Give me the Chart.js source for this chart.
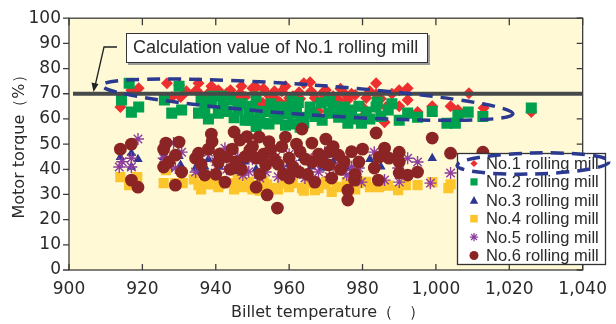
<!DOCTYPE html>
<html lang="en">
<head>
<meta charset="UTF-8">
<title>Motor torque vs billet temperature</title>
<script src="https://cdn.jsdelivr.net/npm/chart.js@4.4.1/dist/chart.umd.min.js"></script>
<style>
  body { margin: 0; background: #fff; }
  canvas { display: block; }
</style>
</head>
<body>
<canvas id="torqueChart" width="616" height="324"></canvas>
<script>
// axis ticks
const xTicks = [900, 920, 940, 960, 980, 1000, 1020, 1040];
const yTicks = [0, 10, 20, 30, 40, 50, 60, 70, 80, 90, 100];
const calcValue = 70;

const millNames = ["No.1 rolling mill", "No.2 rolling mill", "No.3 rolling mill",
                   "No.4 rolling mill", "No.5 rolling mill", "No.6 rolling mill"];

// [billet temperature, motor torque %]
const no1 = [[914,64.7],[917,71.4],[919,72.2],[926.7,74.2],[928,68.7],[930,73.4],[930.4,68.7],[932,71],
  [934.7,71.4],[935.3,74.2],[936,69.4],[937.5,67],[938,70.2],[938.8,73],[940.7,71.4],[941,69],[942,66],
  [943,70.2],[944,71.4],[945,68],[946.6,70.2],[947,73],[948,68.7],[949.5,60.7],[950,72.2],[951,72.6],
  [952,66],[952.8,66.3],[953,72],[954,70],[955.5,68.7],[956,68.3],[956,71],[957.4,66.7],[958,71],[959,73],
  [959.5,66.3],[960,68.3],[961,69],[962.7,70.6],[963,68],[964,74.2],[965.7,74.6],[966,71],[967,68.3],
  [968,63],[969,70.2],[970,71.5],[971,68.7],[972,69],[973,67.5],[973.5,67.5],[974,72],[975,70.2],[976,67.5],
  [977,70],[978,69.5],[979.7,60.3],[980,64.7],[981,68.3],[982,71],[983.7,74.2],[983.7,69.8],[985,68],
  [986,58.7],[986.4,64.7],[988,70],[990,71.4],[990,65],[992.3,72.2],[992.3,67.5],[995,62.7],[999,65],
  [1004,65],[1006,63.5],[1009,70.2],[1013,64.3],[1026,62.7]];
const no2 = [[914.3,67.5],[916.4,74.2],[917,62.7],[919,64.7],[926,67.5],[928,62.3],[930,73],[930.7,63.5],
  [935.3,62.3],[936,67.5],[937,64],[938,60],[938.8,66.3],[939,69],[940.7,62.3],[941.5,69],[942,65.5],
  [943,63],[944,67.5],[945,60.5],[946,63.5],[947,66],[948,59.5],[949,62],[949.3,59.5],[950,65],[951,68.7],
  [951,57],[952,60.7],[953,58.3],[953,63],[954.5,58],[955,66],[956,62.3],[956.3,64.7],[957,60],[957,63],
  [958.7,64.7],[959,57.5],[959.5,62],[960.8,67.5],[961,58],[961,64.5],[962,62.3],[962.5,66.5],[963,56.7],
  [963.5,60.7],[964,58.5],[965.7,64.7],[966,62.5],[967,61],[968.7,66.3],[969,59.5],[970.8,62.3],[971,67],
  [972,65],[973.5,60.7],[974,63],[975,64.7],[976,58.3],[976,61.5],[977,63.5],[978,60],[979,65],[979.7,58.3],
  [981,62.7],[982,60],[983.7,64.7],[984,66.7],[985,61],[987,63.5],[988,66],[990,59.5],[992.3,62.3],
  [995,60.7],[999,63],[1003,58.3],[1005.3,58.3],[1006,61.5],[1008.8,62.7],[1012.8,61],[1026,64.3]];
const no3 = [[914,44.8],[917,46.4],[918.8,44],[917,40.9],[925.8,44.8],[927.2,40.5],[930,45.2],[930.4,41.7],
  [934.5,40.5],[935.3,38.5],[937,41],[938,44],[941,41],[943,44],[944.7,40.5],[946,39],[948,43],[951,40],
  [953,43],[955.5,44.4],[958,41],[960,42],[963.5,44.4],[966,41],[968.9,40.5],[970,44],[972,43],[974,39],
  [975.7,40.5],[979,42],[982,44],[985,41],[990,43],[999,44.4]];
const no4 = [[914,36.9],[916.4,33.7],[918.6,36.9],[925.8,34.5],[926.4,39.7],[929,34.5],[931,34.5],[934,36],
  [935.3,33.7],[936,32],[937,36.9],[938,34],[939,37],[940.7,32.9],[941,34],[942,35],[944,34.5],[945,32],
  [946,36],[947.4,32.9],[949,35],[950,32],[951,33.7],[952,31.5],[953,35.5],[954,34],[955.5,32.5],[957,32],
  [958,34.5],[960,32.9],[961,34.5],[963.5,32.5],[964,31.5],[965,34.5],[967,31.7],[968,32.5],[969,34],
  [970,35],[971.6,31],[973,33],[974.3,32.9],[975.7,34.9],[976,31.7],[978,32],[979,34.5],[981,35],[982,32.9],
  [984.5,32.9],[987,33.5],[989.7,31.7],[991.8,33.7],[995,33.7],[999,34.9],[1003.4,32.5],[1004,34]];
const no5 = [[913.7,40.9],[914.5,43],[917,44.4],[917,40.9],[918.8,52],[925.8,44.4],[928.5,50.4],[929,40.5],
  [930.7,46.8],[934.5,38.9],[936,41],[938,46.8],[939.8,38.5],[940,43],[942.5,48.4],[943,40],[945,42],
  [946,45],[947.4,37.7],[949,39],[950,44],[952,36.5],[953.6,38.9],[954,42],[956.3,44.8],[957,37],[958,40],
  [960,46],[961,42],[962,40],[964.3,36.5],[966,44],[967,42],[968,38.9],[969.7,46.8],[971,37],[972,41],
  [974,44],[975.7,37.7],[977,41],[979,40.5],[979.7,34.9],[983.2,46.8],[986,35.7],[989.7,40.5],[990,34.9],
  [992.3,44.4],[995,42.9],[998.5,34.5],[1004,38.5]];
const no6 = [[914,48],[917,50],[917,35.7],[918.8,32.9],[925.8,48],[925.8,40.9],[926.4,50.4],[927.2,42.9],
  [929,45.6],[929,33.7],[930,50.8],[930.7,38.9],[934.5,44.4],[935.3,46.4],[936,42],[937,37.7],[938,48],
  [938.8,54],[939,51],[940,38],[940.7,42.9],[941,46],[942.5,34.9],[943,45],[944,40],[944.5,48],[945,54.8],
  [945.5,42.9],[946.6,51.6],[947,40],[948,45],[948.5,53],[949.3,47.6],[950,49],[951,44.4],[951,32.9],
  [951.8,52.8],[952,38],[953,46],[953.6,41.7],[954,29.8],[954.5,51],[955,48],[956,44],[956.8,24.6],[957,42],
  [958,49],[958.5,38],[959,52.8],[960,44.4],[960,36.5],[961,41],[962,50],[962.7,38.9],[963,47],[963.5,56],
  [964.5,44],[965,38],[966.2,50.4],[966.2,42.9],[967,34.9],[968,46],[969,43],[970,52],[970.8,41.7],[971,47],
  [971.6,36.5],[972,49],[973.5,45.6],[974,40],[975,43],[976,31.7],[976,27.8],[977,47],[977.8,35.7],[978,38],
  [979,42.9],[980,48],[983.2,40.5],[983.7,54.4],[984.3,35.7],[984.5,44.8],[986,48.4],[987.2,44.4],[990,46.8],
  [990,42.9],[990,38.5],[992.3,37.7],[995,38.9],[999,52.4],[1004,46.4],[1012.8,46.8]];

const series = [no1, no2, no3, no4, no5, no6];
const colors = ['#ee2f2f', '#00a14e', '#2c3592', '#fcc52c', '#8e3c9d', '#8b2424'];
const styles = ['rectRot', 'rect', 'triangle', 'rect', 'star', 'circle'];
const radii = [6, 7.8, 5.5, 7.2, 6, 6.4];

function drawMarker(ctx, style, x, y, r, color) {
  ctx.save();
  ctx.fillStyle = color;
  ctx.strokeStyle = color;
  ctx.beginPath();
  if (style === 'rectRot') {
    ctx.moveTo(x, y - r); ctx.lineTo(x + r, y); ctx.lineTo(x, y + r); ctx.lineTo(x - r, y);
    ctx.closePath(); ctx.fill();
  } else if (style === 'rect') {
    ctx.rect(x - r, y - r, 2 * r, 2 * r); ctx.fill();
  } else if (style === 'triangle') {
    ctx.moveTo(x, y - r); ctx.lineTo(x + r, y + r * 0.8); ctx.lineTo(x - r, y + r * 0.8);
    ctx.closePath(); ctx.fill();
  } else if (style === 'star') {
    ctx.lineWidth = 1.3;
    for (let k = 0; k < 4; k++) {
      const a = k * Math.PI / 4;
      ctx.moveTo(x - r * Math.cos(a), y - r * Math.sin(a));
      ctx.lineTo(x + r * Math.cos(a), y + r * Math.sin(a));
    }
    ctx.stroke();
  } else {
    ctx.arc(x, y, r, 0, Math.PI * 2); ctx.fill();
  }
  ctx.restore();
}

function dashedEllipse(ctx, cx, cy, rx, ry, rot) {
  ctx.save();
  ctx.strokeStyle = '#2b3990';
  ctx.lineWidth = 3.5;
  ctx.setLineDash([13, 8]);
  ctx.beginPath();
  ctx.ellipse(cx, cy, rx, ry, rot, 0, Math.PI * 2);
  ctx.stroke();
  ctx.restore();
}

const decorations = {
  id: 'decorations',
  beforeDraw(chart) {
    const { ctx, chartArea: a } = chart;
    ctx.save();
    ctx.fillStyle = '#fffad5';
    ctx.fillRect(a.left, a.top, a.right - a.left, a.bottom - a.top);
    ctx.restore();
  },
  afterDatasetsDraw(chart) {
    const { ctx, chartArea: a, scales: { x, y } } = chart;
    ctx.save();

    // frame and inward ticks
    ctx.strokeStyle = '#3c3c3c';
    ctx.lineWidth = 1.3;
    ctx.strokeRect(a.left, a.top, a.right - a.left, a.bottom - a.top);
    ctx.beginPath();
    xTicks.forEach(v => {
      const px = x.getPixelForValue(v);
      ctx.moveTo(px, a.bottom); ctx.lineTo(px, a.bottom - 6);
      ctx.moveTo(px, a.top); ctx.lineTo(px, a.top + 7);
    });
    yTicks.forEach(v => {
      const py = y.getPixelForValue(v);
      ctx.moveTo(a.left - 6, py); ctx.lineTo(a.left, py);
      ctx.moveTo(a.right, py); ctx.lineTo(a.right - 6, py);
    });
    ctx.stroke();

    // calculation value line
    const y70 = y.getPixelForValue(calcValue);
    ctx.strokeStyle = '#464a4a';
    ctx.lineWidth = 4;
    ctx.beginPath();
    ctx.moveTo(a.left + 4, y70);
    ctx.lineTo(a.right, y70);
    ctx.stroke();

    // ellipse round the No.1 points
    const lx = x.getPixelForValue(909), ly = y.getPixelForValue(73.3);
    const rx2 = x.getPixelForValue(1021), ry2 = y.getPixelForValue(62);
    dashedEllipse(ctx, (lx + rx2) / 2, (ly + ry2) / 2, Math.hypot(rx2 - lx, ry2 - ly) / 2, 15,
      Math.atan2(ry2 - ly, rx2 - lx));

    // annotation box
    ctx.fillStyle = '#9a9a9a';
    ctx.fillRect(128, 35, 302, 30);
    ctx.fillStyle = '#fff';
    ctx.fillRect(126, 33, 302, 30);
    ctx.strokeStyle = '#333';
    ctx.lineWidth = 1;
    ctx.strokeRect(126.5, 33.5, 301, 29);
    ctx.fillStyle = '#2a2a2a';
    ctx.font = '18px "Liberation Sans", Arial, sans-serif';
    ctx.textBaseline = 'middle';
    ctx.fillText('Calculation value of No.1 rolling mill', 133, 48.5);

    // arrow
    ctx.strokeStyle = '#222';
    ctx.lineWidth = 1.3;
    ctx.beginPath();
    ctx.moveTo(117, 47); ctx.lineTo(104, 47); ctx.lineTo(95.5, 84);
    ctx.stroke();
    ctx.fillStyle = '#222';
    ctx.beginPath();
    ctx.moveTo(93.5, 92); ctx.lineTo(91.5, 82.5); ctx.lineTo(98.5, 84);
    ctx.closePath(); ctx.fill();

    // legend
    const bx = 457, by = 153, bw = 149, bh = 112;
    ctx.fillStyle = '#fff';
    ctx.fillRect(bx, by, bw, bh);
    ctx.strokeStyle = '#333';
    ctx.strokeRect(bx + 0.5, by + 0.5, bw - 1, bh - 1);
    ctx.font = '16.5px "Liberation Sans", Arial, sans-serif';
    ctx.textBaseline = 'middle';
    millNames.forEach((name, i) => {
      const ry = by + 10.5 + i * 18.4;
      const legR = [3.6, 3.6, 4.2, 3.8, 4.2, 4.5][i];
      drawMarker(ctx, styles[i], 474, ry, legR, colors[i]);
      ctx.fillStyle = '#2a2a2a';
      ctx.fillText(name, 486, ry + 1);
    });
    dashedEllipse(ctx, 533, 163.5, 76, 10.5, -0.025);

    // axis titles
    ctx.fillStyle = '#2a2a2a';
    ctx.font = '16px "DejaVu Sans", sans-serif';
    ctx.textAlign = 'center';
    ctx.fillText('Billet temperature（　）', 328, 313);
    ctx.translate(20, 143);
    ctx.rotate(-Math.PI / 2);
    ctx.fillText('Motor torque（%）', 0, 0);
    ctx.restore();
  }
};

const ctx = document.getElementById('torqueChart').getContext('2d');
new Chart(ctx, {
  type: 'scatter',
  data: {
    datasets: series.map((pts, i) => ({
      label: millNames[i],
      data: pts.map(p => ({ x: p[0], y: p[1] })),
      pointStyle: styles[i],
      pointRadius: radii[i],
      backgroundColor: colors[i],
      borderColor: colors[i],
      borderWidth: styles[i] === 'star' ? 1.4 : 0,
      order: 5 - i
    }))
  },
  options: {
    responsive: false,
    devicePixelRatio: 1,
    animation: false,
    layout: { padding: { top: 18, right: 27, left: 0, bottom: 0 } },
    plugins: { legend: { display: false }, tooltip: { enabled: false } },
    scales: {
      x: {
        type: 'linear', min: 900, max: 1040,
        afterFit: s => { s.height = 54; },
        grid: { display: false, drawTicks: false },
        border: { display: false },
        ticks: {
          stepSize: 20, padding: 9, color: '#2a2a2a', maxRotation: 0,
          font: { family: 'DejaVu Sans', size: 17 },
          callback: v => v >= 1000 ? Math.floor(v / 1000) + ',' + String(v % 1000).padStart(3, '0') : String(v)
        }
      },
      y: {
        min: 0, max: 100,
        afterFit: s => { s.width = 69; },
        grid: { display: false, drawTicks: false },
        border: { display: false },
        ticks: {
          stepSize: 10, padding: 8, color: '#2a2a2a',
          font: { family: 'DejaVu Sans', size: 17 }
        }
      }
    }
  },
  plugins: [decorations]
});
</script>
</body>
</html>
